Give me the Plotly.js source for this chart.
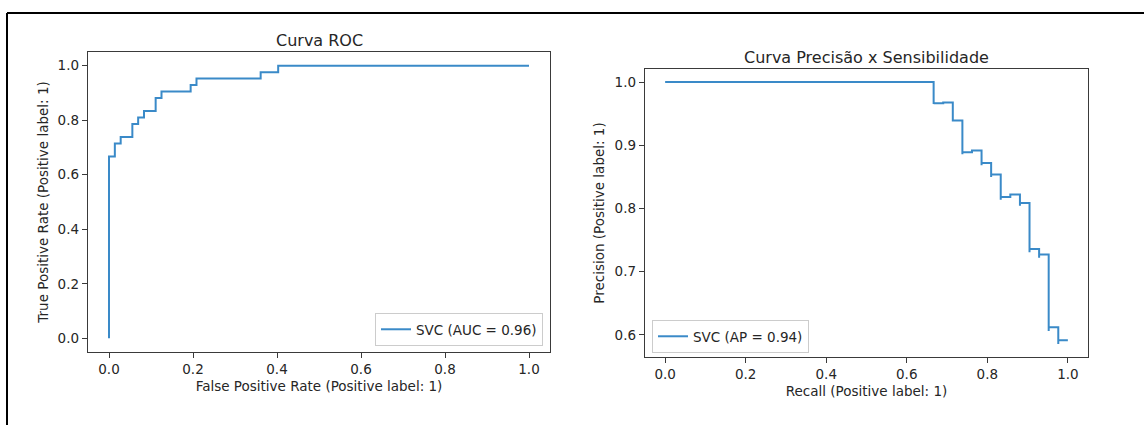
<!DOCTYPE html>
<html>
<head>
<meta charset="utf-8">
<script src="https://cdn.plot.ly/plotly-3.0.1.min.js"></script>
<style>
  html, body { margin: 0; padding: 0; background: #ffffff; }
  #chart { width: 1144px; height: 425px; }
</style>
</head>
<body>
<div id="chart"></div>
<script>
// ROC curve of the SVC classifier (corner points of the staircase)
const rocFpr = [0.0, 0.0, 0.0139, 0.0139, 0.0278, 0.0278, 0.0556, 0.0556, 0.0694, 0.0694,
                0.0833, 0.0833, 0.1111, 0.1111, 0.125, 0.125, 0.1944, 0.1944, 0.2083, 0.2083,
                0.3611, 0.3611, 0.4028, 0.4028, 1.0];
const rocTpr = [0.0, 0.6667, 0.6667, 0.7143, 0.7143, 0.7381, 0.7381, 0.7857, 0.7857, 0.8095,
                0.8095, 0.8333, 0.8333, 0.8810, 0.8810, 0.9048, 0.9048, 0.9286, 0.9286, 0.9524,
                0.9524, 0.9762, 0.9762, 1.0, 1.0];

// Precision-recall points, ordered by increasing threshold (recall decreasing)
const prRecall = [1.0, 0.9762, 0.9762, 0.9524, 0.9524, 0.9286, 0.9286, 0.9048, 0.9048, 0.8810,
                  0.8810, 0.8571, 0.8333, 0.8333, 0.8095, 0.8095, 0.7857, 0.7857, 0.7619, 0.7381,
                  0.7381, 0.7143, 0.7143, 0.6905, 0.6667, 0.6667, 0.0];
const prPrecision = [0.5915, 0.5857, 0.6119, 0.6061, 0.7273, 0.7222, 0.7358, 0.7308, 0.8085, 0.8043,
                     0.8222, 0.8182, 0.8140, 0.8537, 0.8500, 0.8718, 0.8684, 0.8919, 0.8889, 0.8857,
                     0.9394, 0.9375, 0.9677, 0.9667, 0.9655, 1.0, 1.0];

const rocLabel = 'SVC (AUC = 0.96)';
const prLabel = 'SVC (AP = 0.94)';
const rocTitle = 'Curva ROC';
const prTitle = 'Curva Precisão x Sensibilidade';
const rocXLabel = 'False Positive Rate (Positive label: 1)';
const rocYLabel = 'True Positive Rate (Positive label: 1)';
const prXLabel = 'Recall (Positive label: 1)';
const prYLabel = 'Precision (Positive label: 1)';
const unitTicks = [0, 0.2, 0.4, 0.6, 0.8, 1.0];
const precisionTicks = [0.6, 0.7, 0.8, 0.9, 1.0];

const W = 1144, H = 425;
const px = v => v / W;
const py = v => 1 - v / H;

const lineColor = '#3a8ac8';
const textColor = '#262626';
const font = { family: 'DejaVu Sans', size: 13.5, color: textColor };
const titleFont = { family: 'DejaVu Sans', size: 16, color: textColor };

function axisStyle(extra) {
  return Object.assign({
    showgrid: false,
    zeroline: false,
    showline: true,
    mirror: true,
    linecolor: '#3a3a3a',
    linewidth: 1.2,
    ticks: 'outside',
    ticklen: 5,
    tickwidth: 1,
    tickcolor: '#3a3a3a',
    tickformat: '.1f',
    tickfont: font,
    automargin: false,
    fixedrange: true
  }, extra);
}

const traces = [
  {
    x: rocFpr, y: rocTpr, type: 'scatter', mode: 'lines',
    line: { color: lineColor, width: 2 },
    name: rocLabel, xaxis: 'x', yaxis: 'y', legend: 'legend', showlegend: true
  },
  {
    x: prRecall, y: prPrecision, type: 'scatter', mode: 'lines',
    line: { color: lineColor, width: 2, shape: 'hv' },
    name: prLabel, xaxis: 'x2', yaxis: 'y2', legend: 'legend2', showlegend: true
  }
];

const legendBase = {
  bgcolor: 'rgba(255,255,255,0.8)',
  bordercolor: '#cccccc',
  borderwidth: 1,
  font: font,
  itemwidth: 30,
  xref: 'paper', yref: 'paper'
};

const layout = {
  width: W, height: H,
  margin: { l: 0, r: 0, t: 0, b: 0 },
  paper_bgcolor: '#ffffff',
  plot_bgcolor: '#ffffff',
  font: font,
  xaxis: axisStyle({
    domain: [px(88), px(550)], range: [-0.05, 1.05], anchor: 'y',
    tickvals: unitTicks,
    title: { text: rocXLabel, font: font, standoff: 5 }
  }),
  yaxis: axisStyle({
    domain: [py(352), py(52)], range: [-0.05, 1.05], anchor: 'x',
    tickvals: unitTicks,
    title: { text: rocYLabel, font: font, standoff: 5 }
  }),
  xaxis2: axisStyle({
    domain: [px(645), px(1088)], range: [-0.05, 1.05], anchor: 'y2',
    tickvals: unitTicks,
    title: { text: prXLabel, font: font, standoff: 5 }
  }),
  yaxis2: axisStyle({
    domain: [py(357), py(69)], range: [0.565, 1.0207], anchor: 'x2',
    tickvals: precisionTicks,
    title: { text: prYLabel, font: font, standoff: 6 }
  }),
  legend: Object.assign({}, legendBase, {
    x: px(543), xanchor: 'right', y: py(346), yanchor: 'bottom'
  }),
  legend2: Object.assign({}, legendBase, {
    x: px(652), xanchor: 'left', y: py(353), yanchor: 'bottom'
  }),
  annotations: [
    {
      text: rocTitle, xref: 'paper', yref: 'paper',
      x: px(319), y: py(40), xanchor: 'center', yanchor: 'middle',
      showarrow: false, font: titleFont
    },
    {
      text: prTitle, xref: 'paper', yref: 'paper',
      x: px(866.5), y: py(57), xanchor: 'center', yanchor: 'middle',
      showarrow: false, font: titleFont
    }
  ],
  shapes: [
    // frame around the output cell: top and left edges
    { type: 'line', xref: 'paper', yref: 'paper', x0: px(7), x1: 1, y0: py(13), y1: py(13),
      line: { color: '#000000', width: 2 } },
    { type: 'line', xref: 'paper', yref: 'paper', x0: px(7), x1: px(7), y0: py(13), y1: 0,
      line: { color: '#000000', width: 2 } }
  ]
};

Plotly.newPlot('chart', traces, layout, { displayModeBar: false, staticPlot: true });
</script>
</body>
</html>
